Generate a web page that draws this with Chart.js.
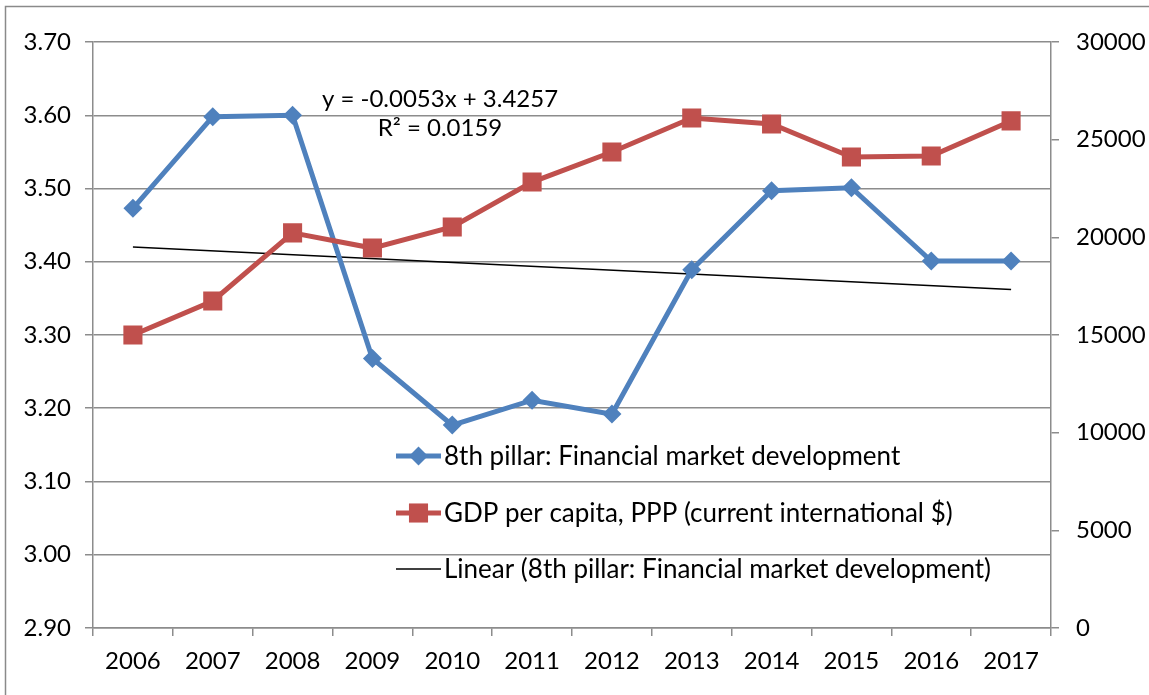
<!DOCTYPE html>
<html>
<head>
<meta charset="utf-8">
<script src="https://cdn.jsdelivr.net/npm/chart.js@4"></script>
<style>
  html, body { margin: 0; padding: 0; background: #fff; }
  #wrap { position: relative; width: 1149px; height: 695px; }
</style>
</head>
<body>
<div id="wrap"><canvas id="chart" width="1149" height="695"></canvas></div>
<script>
const years = ['2006', '2007', '2008', '2009', '2010', '2011', '2012', '2013', '2014', '2015', '2016', '2017'];
const pillarValues = [3.473, 3.598, 3.600, 3.268, 3.177, 3.211, 3.192, 3.389, 3.497, 3.501, 3.401, 3.401];
const gdpValues = [15000, 16740, 20230, 19450, 20530, 22830, 24370, 26110, 25800, 24110, 24160, 25960];
// trend line read at its two ends (2006, 2017)
const trendValues = [3.420, null, null, null, null, null, null, null, null, null, null, 3.362];
const leftTicks = [2.90, 3.00, 3.10, 3.20, 3.30, 3.40, 3.50, 3.60, 3.70];
const rightTicks = [0, 5000, 10000, 15000, 20000, 25000, 30000];
const trendText = ['y = -0.0053x + 3.4257', 'R\u00b2 = 0.0159'];

const FONT = 'Lato, "Open Sans", sans-serif';
const gridColor = '#8c8c8c';

const framePlugin = {
  id: 'frame',
  beforeDraw(chart) {
    const ctx = chart.ctx;
    ctx.save();
    ctx.strokeStyle = '#8a8a8a';
    ctx.lineWidth = 1.5;
    ctx.beginPath();
    ctx.moveTo(5.5, 700);
    ctx.lineTo(5.5, 6.5);
    ctx.lineTo(1160, 6.5);
    ctx.stroke();
    ctx.restore();
  }
};

const extrasPlugin = {
  id: 'extras',
  afterDraw(chart) {
    const ctx = chart.ctx;
    ctx.save();
    ctx.fillStyle = '#000';
    ctx.font = '24px ' + FONT;
    ctx.textAlign = 'center';
    ctx.textBaseline = 'middle';
    ctx.fillText(trendText[0], 440, 99);
    ctx.fillText(trendText[1], 440, 128);

    // legend
    const rows = [
      { ds: chart.data.datasets[0], y: 456 },
      { ds: chart.data.datasets[1], y: 513 },
      { ds: chart.data.datasets[2], y: 569 }
    ];
    ctx.textAlign = 'left';
    ctx.font = '26px ' + FONT;
    rows.forEach(r => {
      const ds = r.ds;
      ctx.strokeStyle = ds.borderColor;
      ctx.lineWidth = ds.borderWidth;
      ctx.beginPath();
      ctx.moveTo(396, r.y);
      ctx.lineTo(441, r.y);
      ctx.stroke();
      if (ds.pointRadius > 0) {
        ctx.fillStyle = ds.backgroundColor;
        ctx.beginPath();
        if (ds.pointStyle === 'rect') {
          const s = ds.pointRadius * Math.SQRT1_2;
          ctx.rect(418.5 - s, r.y - s, 2 * s, 2 * s);
        } else {
          const s = ds.pointRadius;
          ctx.moveTo(418.5, r.y - s);
          ctx.lineTo(418.5 + s, r.y);
          ctx.lineTo(418.5, r.y + s);
          ctx.lineTo(418.5 - s, r.y);
          ctx.closePath();
        }
        ctx.fill();
      }
      ctx.fillStyle = '#000';
      ctx.fillText(ds.label, 444, r.y + 1);
    });
    ctx.restore();
  }
};

new Chart(document.getElementById('chart'), {
  type: 'line',
  data: {
    labels: years,
    datasets: [
      {
        label: '8th pillar: Financial market development',
        data: pillarValues,
        yAxisID: 'y',
        borderColor: '#4F81BD',
        backgroundColor: '#4F81BD',
        borderWidth: 5,
        pointStyle: 'rectRot',
        pointRadius: 9.5,
        pointBorderWidth: 0,
        tension: 0,
        order: 1
      },
      {
        label: 'GDP per capita, PPP (current international $)',
        data: gdpValues,
        yAxisID: 'y1',
        borderColor: '#C0504D',
        backgroundColor: '#C0504D',
        borderWidth: 5,
        pointStyle: 'rect',
        pointRadius: 13.5,
        pointBorderWidth: 0,
        tension: 0,
        order: 0
      },
      {
        label: 'Linear (8th pillar: Financial market development)',
        data: trendValues,
        yAxisID: 'y',
        borderColor: '#000',
        backgroundColor: '#000',
        borderWidth: 1.5,
        pointRadius: 0,
        spanGaps: true,
        order: 2
      }
    ]
  },
  options: {
    responsive: false,
    animation: false,
    layout: { padding: { top: 42, left: 0, right: 0, bottom: 0 } },
    plugins: {
      legend: { display: false },
      tooltip: { enabled: false }
    },
    scales: {
      x: {
        offset: true,
        grid: {
          offset: true,
          drawOnChartArea: false,
          color: gridColor,
          lineWidth: 1.5,
          tickLength: 8
        },
        border: { color: gridColor, width: 1.5 },
        ticks: { color: '#000', font: { family: FONT, size: 24 }, padding: 11, maxRotation: 0 },
        afterFit: s => { s.height = 67; }
      },
      y: {
        position: 'left',
        min: 2.9,
        max: 3.7,
        afterBuildTicks: s => { s.ticks = leftTicks.map(v => ({ value: v })); },
        grid: { color: gridColor, lineWidth: 1.5, tickLength: 8 },
        border: { color: gridColor, width: 1.5 },
        ticks: {
          color: '#000',
          font: { family: FONT, size: 24 },
          padding: 14,
          callback: v => Number(v).toFixed(2)
        },
        afterFit: s => { s.width = 93; }
      },
      y1: {
        position: 'right',
        min: 0,
        max: 30000,
        afterBuildTicks: s => { s.ticks = rightTicks.map(v => ({ value: v })); },
        grid: { drawOnChartArea: false, color: gridColor, lineWidth: 1.5, tickLength: 8 },
        border: { color: gridColor, width: 1.5 },
        ticks: {
          color: '#000',
          font: { family: FONT, size: 24 },
          padding: 17,
          callback: v => String(v)
        },
        afterFit: s => { s.width = 98; }
      }
    }
  },
  plugins: [framePlugin, extrasPlugin]
});
</script>
</body>
</html>
